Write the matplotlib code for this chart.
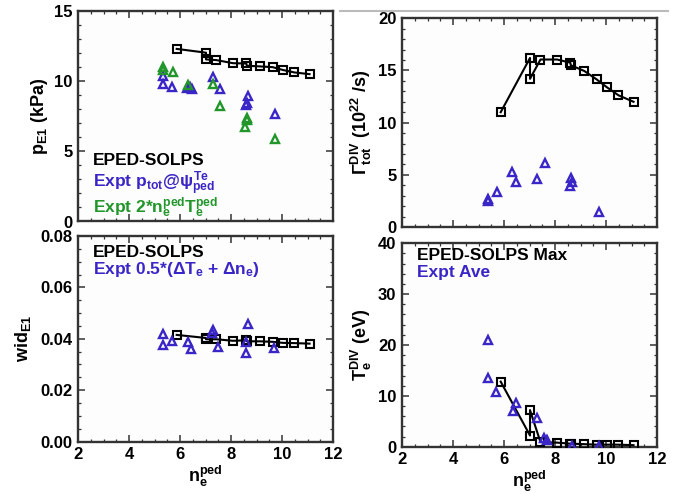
import matplotlib
matplotlib.use("Agg")
import matplotlib.pyplot as plt
from matplotlib.ticker import MultipleLocator
from matplotlib.lines import Line2D

plt.rcParams['font.family'] = ['Liberation Sans', 'DejaVu Sans']
plt.rcParams['font.weight'] = 'bold'
plt.rcParams['mathtext.fontset'] = 'custom'
plt.rcParams['mathtext.rm'] = 'Liberation Sans:bold'
plt.rcParams['mathtext.it'] = 'Liberation Sans:bold'
plt.rcParams['mathtext.bf'] = 'Liberation Sans:bold'
plt.rcParams['mathtext.sf'] = 'Liberation Sans:bold'

# ---- data ----
# EPED-SOLPS model points (shared n_e^ped)
model_ne = [5.87, 7.02, 7.02, 7.43, 8.08, 8.60, 8.62, 9.15, 9.63, 10.03, 10.49, 11.08]
model_pE1 = [12.3, 12.03, 11.55, 11.5, 11.28, 11.26, 11.1, 11.05, 11.0, 10.8, 10.62, 10.5]
model_gamma = [11.0, 16.2, 14.2, 16.05, 16.05, 15.75, 15.5, 14.95, 14.15, 13.4, 12.62, 12.0]
model_wid = [0.0415, 0.0403, 0.0398, 0.0398, 0.0392, 0.0394, 0.0390, 0.0390, 0.0388, 0.0384, 0.0383, 0.0381]
model_Te = [12.8, 2.2, 7.2, 0.9, 0.8, 0.6, 0.6, 0.5, 0.4, 0.4, 0.4, 0.3]

# Experiment: p_tot @ psi_ped^Te
expt_p_ne = [5.35, 5.32, 5.67, 6.29, 6.40, 6.46, 7.28, 7.57, 8.68, 8.59, 8.62, 9.73]
expt_p = [10.4, 9.81, 9.58, 9.51, 9.55, 9.46, 10.28, 9.46, 8.95, 8.29, 8.45, 7.64]

# Experiment: 2 * n_e^ped * T_e^ped
expt_nT_ne = [5.32, 5.35, 5.71, 6.33, 7.28, 7.57, 8.64, 8.61, 8.55, 9.73]
expt_nT = [10.98, 10.8, 10.63, 9.74, 9.81, 8.25, 7.4, 7.24, 6.7, 5.91]

# Experiment: divertor particle flux
expt_g_ne = [5.36, 5.38, 5.71, 6.30, 6.47, 7.31, 7.60, 8.62, 8.68, 8.60, 9.74]
expt_g = [2.5, 2.65, 3.4, 5.3, 4.3, 4.6, 6.1, 4.7, 4.3, 3.9, 1.4]

# Experiment: pedestal width
expt_w_ne = [5.32, 5.32, 5.67, 6.33, 6.42, 7.28, 7.25, 7.50, 8.68, 8.59, 8.59, 9.69]
expt_w = [0.0418, 0.0374, 0.0390, 0.0388, 0.0362, 0.0435, 0.0422, 0.0369, 0.0456, 0.0386, 0.0346, 0.0365]

# Experiment: divertor Te
expt_T_ne = [5.39, 5.39, 5.69, 6.47, 6.34, 7.30, 7.57, 7.70, 8.65, 9.74]
expt_T = [20.9, 13.6, 10.7, 8.6, 7.1, 5.6, 1.7, 1.3, 0.2, 0.2]

BLUE = '#3a26c6'
GREEN = '#22962a'
FRAME = '#333333'

W, H = 677, 494
fig = plt.figure(figsize=(W / 100, H / 100), dpi=100)
fig.patch.set_facecolor('white')


def make_ax(l, r, t, b):
    return fig.add_axes([l / W, (H - b) / H, (r - l) / W, (b - t) / H])


ax1 = make_ax(78, 333, 11, 221.5)     # p_E1
ax2 = make_ax(78, 333, 236, 441.5)    # wid
ax3 = make_ax(402, 657, 18.3, 227)    # Gamma
ax4 = make_ax(402, 657, 243.3, 446.7)  # Te

sq = dict(marker='s', color='black', markerfacecolor='none', markersize=5.5,
          markeredgewidth=1.5, linewidth=1.5, zorder=3)
tri_b = dict(marker='^', linestyle='none', markerfacecolor='none', markeredgecolor=BLUE,
             markersize=6, markeredgewidth=1.7, zorder=4)
tri_g = dict(marker='^', linestyle='none', markerfacecolor='none', markeredgecolor=GREEN,
             markersize=6, markeredgewidth=1.7, zorder=4)

ax1.plot(model_ne, model_pE1, **sq)
ax1.plot(expt_p_ne, expt_p, **tri_b)
ax1.plot(expt_nT_ne, expt_nT, **tri_g)

ax2.plot(model_ne, model_wid, **sq)
ax2.plot(expt_w_ne, expt_w, **tri_b)

ax3.plot(model_ne, model_gamma, **sq)
ax3.plot(expt_g_ne, expt_g, **tri_b)

ax4.plot(model_ne, model_Te, **sq)
ax4.plot(expt_T_ne, expt_T, **tri_b)

ylims = [(0, 15, 5, 1), (0, 0.08, 0.02, 0.005), (0, 20, 5, 1), (0, 40, 10, 2)]
for ax, (y0, y1, maj, mnr) in zip([ax1, ax2, ax3, ax4], ylims):
    ax.set_xlim(2, 12)
    ax.set_ylim(y0, y1)
    ax.xaxis.set_major_locator(MultipleLocator(2))
    ax.xaxis.set_minor_locator(MultipleLocator(0.5))
    ax.yaxis.set_major_locator(MultipleLocator(maj))
    ax.yaxis.set_minor_locator(MultipleLocator(mnr))
    ax.tick_params(which='both', direction='in', top=True, right=True,
                   color=FRAME, labelsize=12, pad=4)
    ax.tick_params(which='major', length=5, width=1.1)
    ax.tick_params(which='minor', length=2.5, width=0.9)
    for s in ax.spines.values():
        s.set_linewidth(1.7)
        s.set_color(FRAME)
    for lab in ax.get_xticklabels() + ax.get_yticklabels():
        lab.set_fontweight('bold')
    ax.set_facecolor('#fdfdfd')

ax1.tick_params(labelbottom=False)
ax3.tick_params(labelbottom=False)
ax2.yaxis.set_major_formatter(plt.FormatStrFormatter('%.2f'))

ax1.set_ylabel(r'p$_{\rm E1}$ (kPa)', fontsize=13, fontweight='bold', labelpad=3)
ax2.set_ylabel(r'wid$_{\rm E1}$', fontsize=13, fontweight='bold', labelpad=5)
ax3.set_ylabel(r'$\Gamma^{\rm DIV}_{\rm tot}$ (10$^{22}$ /s)', fontsize=13, fontweight='bold', labelpad=3)
ax4.set_ylabel(r'T$_{\rm e}^{\rm DIV}$ (eV)', fontsize=13, fontweight='bold', labelpad=3)
ax2.set_xlabel(r'n$_{\rm e}^{\rm ped}$', fontsize=13, fontweight='bold', labelpad=1)
ax4.set_xlabel(r'n$_{\rm e}^{\rm ped}$', fontsize=13, fontweight='bold', labelpad=1)

tkw = dict(fontsize=12.5, fontweight='bold', va='center', ha='left')
ax1.text(0.06, 0.29, 'EPED-SOLPS', color='black', transform=ax1.transAxes, **tkw)
ax1.text(0.06, 0.18, r'Expt p$_{\rm tot}$@$\psi^{\rm Te}_{\rm ped}$', color=BLUE,
         transform=ax1.transAxes, **tkw)
ax1.text(0.06, 0.065, r'Expt 2*n$_{\rm e}^{\rm ped}$T$_{\rm e}^{\rm ped}$', color=GREEN,
         transform=ax1.transAxes, **tkw)

ax2.text(0.06, 0.92, 'EPED-SOLPS', color='black', transform=ax2.transAxes, **tkw)
ax2.text(0.06, 0.835, r'Expt 0.5*($\Delta$T$_{\rm e}$ + $\Delta$n$_{\rm e}$)', color=BLUE,
         transform=ax2.transAxes, **tkw)

ax4.text(0.06, 0.94, 'EPED-SOLPS Max', color='black', transform=ax4.transAxes, **tkw)
ax4.text(0.06, 0.855, 'Expt Ave', color=BLUE, transform=ax4.transAxes, **tkw)

# light grey slide rule at the top right
fig.add_artist(Line2D([340 / W, 668 / W], [(H - 11.5) / H] * 2, color='#bbbbbb',
                      linewidth=1.5, transform=fig.transFigure))

fig.savefig('out.png', dpi=100, facecolor='white')
